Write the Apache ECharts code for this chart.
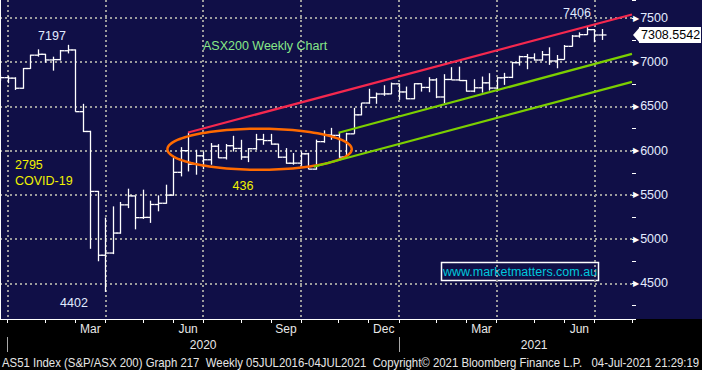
<!DOCTYPE html>
<html><head><meta charset="utf-8">
<script src="https://cdn.jsdelivr.net/npm/echarts@6/dist/echarts.min.js"></script>
<style>
html,body{margin:0;padding:0;background:#000;}
#c{width:702px;height:370px;background:linear-gradient(to bottom,#100f47 0,#100f47 319px,#000 319px,#000 100%);}
</style></head><body><div id="c"></div>
<script>
// weekly bars (week ending Friday)
const weeks = ['2019-12-20','2019-12-27',
'2020-01-03','2020-01-10','2020-01-17','2020-01-24','2020-01-31','2020-02-07','2020-02-14','2020-02-21','2020-02-28',
'2020-03-06','2020-03-13','2020-03-20','2020-03-27','2020-04-03','2020-04-10','2020-04-17','2020-04-24','2020-05-01',
'2020-05-08','2020-05-15','2020-05-22','2020-05-29','2020-06-05','2020-06-12','2020-06-19','2020-06-26','2020-07-03',
'2020-07-10','2020-07-17','2020-07-24','2020-07-31','2020-08-07','2020-08-14','2020-08-21','2020-08-28','2020-09-04',
'2020-09-11','2020-09-18','2020-09-25','2020-10-02','2020-10-09','2020-10-16','2020-10-23','2020-10-30','2020-11-06',
'2020-11-13','2020-11-20','2020-11-27','2020-12-04','2020-12-11','2020-12-18','2020-12-25',
'2021-01-01','2021-01-08','2021-01-15','2021-01-22','2021-01-29','2021-02-05','2021-02-12','2021-02-19','2021-02-26',
'2021-03-05','2021-03-12','2021-03-19','2021-03-26','2021-04-02','2021-04-09','2021-04-16','2021-04-23','2021-04-30',
'2021-05-07','2021-05-14','2021-05-21','2021-05-28','2021-06-04','2021-06-11','2021-06-18','2021-06-25','2021-07-02',
'2021-07-09','2021-07-16','2021-07-23','2021-07-30'];

const open = [6810,6826,6820,6706,6929,7080,7090,7026,7030,7130,7139,6441,6217,5539,4817,4842,5068,5387,5488,5242,
5245,5391,5405,5497,5755,6000,5847,5942,5897,6050,5919,6056,6025,5928,6022,6126,6114,6074,5926,5858,
5859,5964,5791,6102,6176,6173,5927,6190,6405,6539,6601,6641,6642,6756,6664,6587,6757,6715,6800,6607,
6805,6800,6793,6673,6711,6767,6708,6824,6829,6995,7063,7050,7025,7085,7014,7031,7180,7296,7312,7369,7308];
const high = [6850,6845,6830,6935,7085,7146,7095,7063,7139,7197,7145,6530,6225,5545,5243,5370,5420,5570,5490,5559,
5434,5494,5615,5916,6040,6205,6010,5991,6086,6074,6075,6168,6123,6030,6190,6190,6190,6078,6029,5973,
5991,5975,6125,6230,6258,6202,6202,6484,6540,6700,6657,6740,6770,6760,6725,6763,6763,6831,6820,6865,
6944,6950,6800,6808,6838,6876,6831,6880,7006,7074,7094,7101,7127,7169,7082,7195,7308,7338,7406,7376,7376];
const low = [6790,6763,6687,6700,6925,7063,6995,6905,7020,7100,6440,6210,4890,4749,4402,4830,5060,5350,5110,5228,
5183,5314,5400,5490,5709,5765,5728,5790,5841,5916,5900,5990,5897,5870,6010,6067,6067,5916,5852,5841,
5830,5790,5785,6090,6123,5920,5920,6190,6400,6530,6530,6620,6639,6574,6582,6582,6668,6661,6594,6537,
6800,6790,6668,6661,6657,6680,6687,6744,6820,6962,6921,7020,7018,6970,6932,7030,7176,7278,7310,7226,7252];
const close = [6826,6820,6706,6929,7080,7090,7026,7030,7130,7139,6441,6217,5539,4817,4842,5068,5387,5488,5242,5245,
5391,5405,5497,5755,6000,5847,5942,5897,6050,5919,6056,6025,5928,6022,6126,6114,6074,5926,5858,5859,
5964,5791,6102,6176,6173,5927,6190,6405,6539,6601,6641,6642,6756,6664,6587,6757,6715,6800,6607,6805,
6800,6793,6673,6711,6767,6708,6824,6829,6995,7063,7050,7025,7085,7014,7031,7180,7296,7312,7369,7308,7308.5542];

const lastPrice = 7308.5542;
const monthLabels = ['Mar','Jun','Sep','Dec','Mar','Jun'];
const monthLabelWeeks = ['2020-03-13','2020-06-12','2020-09-11','2020-12-11','2021-03-12','2021-06-11'];
const yearLabels = ['2020','2021'];
const yearLabelWeeks = ['2020-06-26','2021-04-30'];
const yearStartWeeks = ['2019-12-27','2020-12-25'];
const gridWeeks = ['2019-12-27','2020-03-27','2020-06-26','2020-09-25','2020-12-25','2021-03-26','2021-06-25'];
// trend lines: [week index, value]
const redLine = [[25, 6205], [84, 7540]];
const greenUpper = [[45, 6202], [84, 7094]];
const greenLower = [[41.7, 5818], [84, 6778]];
// ellipse: centre week, centre value, half width (weeks), half height (points)
const ellipse = [34.5, 6016, 12.25, 232];

const footerText = 'AS51 Index (S&P/ASX 200) Graph 217  Weekly 05JUL2016-04JUL2021  Copyright\u00A9 2021 Bloomberg Finance L.P.   04-Jul-2021 21:29:19';

const bars = close.map((c, i) => [i, open[i], high[i], low[i], c]);
const FONT = '"Liberation Sans", Arial, sans-serif';
const dotted = {type: [2, 3], color: '#9c9c9c', width: 2};

// fit footer into the page width
const footerFont = '12px "Liberation Sans", Arial, sans-serif';
const mctx = document.createElement('canvas').getContext('2d');
mctx.font = footerFont;
const footerScale = Math.min(1, 698 / mctx.measureText(footerText).width);

function isTickWeek(i) {
  const r = (i - 1) % 13;
  return i >= 1 && (r === 0 || r === 5 || r === 9);
}

const chart = echarts.init(document.getElementById('c'), null, {renderer: 'svg'});
chart.setOption({
  animation: false,
  backgroundColor: 'transparent',
  grid: {left: 0, top: 0, right: 70, bottom: 51, containLabel: false},
  xAxis: [
    {
      type: 'category', data: weeks, boundaryGap: false,
      axisLine: {show: true, lineStyle: {color: '#ffffff', width: 1}},
      axisTick: {show: true, interval: (i) => isTickWeek(i), length: 4, lineStyle: {color: '#ffffff'}},
      axisLabel: {
        interval: (i, v) => monthLabelWeeks.includes(v),
        formatter: (v) => monthLabels[monthLabelWeeks.indexOf(v)],
        color: '#e8e8e8', fontSize: 12, fontFamily: FONT, margin: 4
      },
      splitLine: {show: true, interval: (i, v) => gridWeeks.includes(v), lineStyle: dotted}
    },
    {
      type: 'category', data: weeks, boundaryGap: false, position: 'bottom', offset: 18,
      axisLine: {show: false},
      axisTick: {show: true, interval: (i, v) => yearStartWeeks.includes(v), length: 15, lineStyle: {color: '#a8a8a8'}},
      axisLabel: {
        interval: (i, v) => yearLabelWeeks.includes(v),
        formatter: (v) => yearLabels[yearLabelWeeks.indexOf(v)],
        color: '#e8e8e8', fontSize: 12, fontFamily: FONT, margin: 2
      },
      splitLine: {show: false}
    },
    {type: 'value', min: 0, max: 84, show: false}
  ],
  yAxis: [
    {
      type: 'value', position: 'right', min: 4096, max: 7704, minInterval: 500, maxInterval: 500,
      axisLine: {show: true, lineStyle: {color: '#ffffff', width: 1}},
      axisTick: {show: false},
      axisLabel: {
        showMinLabel: false, showMaxLabel: false, margin: 1,
        formatter: (v) => '{t|\u25B6}{v|' + v + '}',
        rich: {
          t: {color: '#ffffff', fontSize: 8, fontFamily: '"DejaVu Sans", sans-serif', padding: [0, 1, 0, 0]},
          v: {color: '#e4ecff', fontSize: 12.5, fontFamily: FONT}
        }
      },
      splitLine: {show: true, showMinLine: false, showMaxLine: false, lineStyle: dotted}
    },
    {
      type: 'value', position: 'right', min: 4096, max: 7704, minInterval: 250, maxInterval: 250,
      axisLine: {show: false},
      axisTick: {show: true, length: 4, lineStyle: {color: '#ffffff'}},
      axisLabel: {show: false},
      splitLine: {show: false}
    }
  ],
  series: [
    {
      type: 'custom', name: 'AS51', xAxisIndex: 0, yAxisIndex: 0,
      data: bars, encode: {x: 0, y: [1, 2, 3, 4]},
      renderItem: function (params, api) {
        const x = api.value(0);
        const o = api.coord([x, api.value(1)]);
        const h = api.coord([x, api.value(2)]);
        const l = api.coord([x, api.value(3)]);
        const c = api.coord([x, api.value(4)]);
        const px = Math.round(o[0]) + 0.5;
        const st = {stroke: '#ffffff', lineWidth: 1.3};
        return {type: 'group', children: [
          {type: 'line', shape: {x1: px, y1: h[1], x2: px, y2: l[1]}, style: st},
          {type: 'line', shape: {x1: px - 4, y1: o[1], x2: px, y2: o[1]}, style: st},
          {type: 'line', shape: {x1: px, y1: c[1], x2: px + 4, y2: c[1]}, style: st}
        ]};
      }
    },
    {
      type: 'line', xAxisIndex: 2, yAxisIndex: 0, data: redLine, symbol: 'none', silent: true,
      lineStyle: {color: '#f5284e', width: 2.2}
    },
    {
      type: 'line', xAxisIndex: 2, yAxisIndex: 0, data: greenUpper, symbol: 'none', silent: true,
      lineStyle: {color: '#7ccf00', width: 2.2}
    },
    {
      type: 'line', xAxisIndex: 2, yAxisIndex: 0, data: greenLower, symbol: 'none', silent: true,
      lineStyle: {color: '#7ccf00', width: 2.2}
    },
    {
      type: 'custom', xAxisIndex: 2, yAxisIndex: 0, data: [ellipse], encode: {x: 0, y: 1}, silent: true,
      renderItem: function (params, api) {
        const cx = api.value(0), cy = api.value(1), rx = api.value(2), ry = api.value(3);
        const pts = [];
        for (let k = 0; k < 120; k++) {
          const a = k / 120 * Math.PI * 2;
          pts.push(api.coord([cx + rx * Math.cos(a), cy + ry * Math.sin(a)]));
        }
        return {type: 'polygon', shape: {points: pts}, style: {fill: 'none', stroke: '#ff6a00', lineWidth: 2.5}};
      }
    },
    {
      // last price tag on the value axis
      type: 'custom', xAxisIndex: 2, yAxisIndex: 0, data: [[84, lastPrice]], encode: {x: 0, y: 1},
      clip: false, silent: true, z: 10,
      renderItem: function (params, api) {
        const p = api.coord([api.value(0), api.value(1)]);
        const x0 = p[0] + 1, y = p[1];
        return {type: 'group', children: [
          {type: 'polygon', shape: {points: [[x0, y], [x0 + 7, y - 8], [x0 + 7, y + 8]]}, style: {fill: '#ffffff'}},
          {type: 'rect', shape: {x: x0 + 6, y: y - 8, width: 62, height: 16}, style: {fill: '#ffffff'}},
          {type: 'text', x: x0 + 8, y: y + 0.5, style: {text: api.value(1).toFixed(4), fill: '#000000', font: '12.5px ' + FONT, align: 'left', verticalAlign: 'middle'}}
        ]};
      }
    }
  ],
  graphic: [
    {type: 'text', x: 52, y: 36, style: {text: '7197', fill: '#e0ecff', font: '12.5px ' + FONT, align: 'center', verticalAlign: 'middle'}},
    {type: 'text', x: 74, y: 303, style: {text: '4402', fill: '#e0ecff', font: '12.5px ' + FONT, align: 'center', verticalAlign: 'middle'}},
    {type: 'text', x: 577, y: 12.5, style: {text: '7406', fill: '#e0ecff', font: '12.5px ' + FONT, align: 'center', verticalAlign: 'middle'}},
    {type: 'text', x: 15, y: 165, style: {text: '2795', fill: '#f2f200', font: '12.5px ' + FONT, align: 'left', verticalAlign: 'middle'}},
    {type: 'text', x: 15, y: 181, style: {text: 'COVID-19', fill: '#f2f200', font: '12.5px ' + FONT, align: 'left', verticalAlign: 'middle'}},
    {type: 'text', x: 243, y: 186, style: {text: '436', fill: '#f2f200', font: '12.5px ' + FONT, align: 'center', verticalAlign: 'middle'}},
    {type: 'text', x: 203, y: 45.5, style: {text: 'ASX200 Weekly Chart', fill: '#88e888', font: '12.5px ' + FONT, align: 'left', verticalAlign: 'middle'}},
    {type: 'rect', shape: {x: 441.5, y: 262.5, width: 157, height: 18}, style: {fill: 'none', stroke: '#ffffff', lineWidth: 1.5}},
    {type: 'text', x: 520, y: 271.5, style: {text: 'www.marketmatters.com.au', fill: '#00c8dc', font: '12.5px ' + FONT, align: 'center', verticalAlign: 'middle'}},
    {type: 'text', x: 2, y: 362, scaleX: footerScale, style: {text: footerText, fill: '#e6e6e6', font: footerFont, align: 'left', verticalAlign: 'middle'}}
  ]
});
</script></body></html>
